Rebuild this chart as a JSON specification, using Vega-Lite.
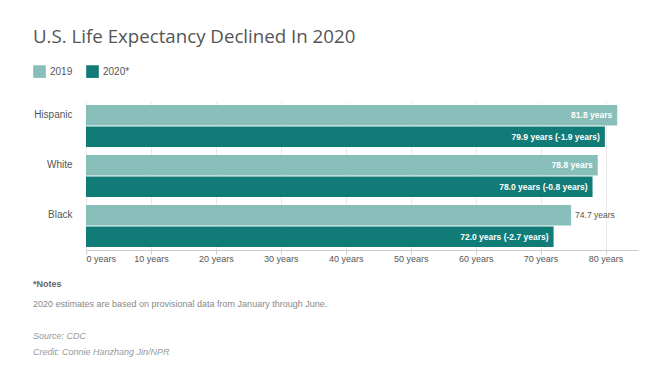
{
  "$schema": "https://vega.github.io/schema/vega-lite/v6.json",
  "background": "white",
  "padding": {"left": 33, "top": 28, "right": 5, "bottom": 5},
  "title": {
    "text": "U.S. Life Expectancy Declined In 2020",
    "anchor": "start",
    "frame": "bounds",
    "font": "Open Sans",
    "fontSize": 18.7,
    "fontWeight": "normal",
    "color": "#555555",
    "offset": 18
  },
  "config": {
    "view": {"stroke": null},
    "font": "Liberation Sans",
    "legend": {
      "orient": "none",
      "legendX": -53,
      "legendY": -37,
      "direction": "horizontal",
      "title": null,
      "symbolType": "square",
      "symbolSize": 160,
      "symbolStrokeWidth": 0,
      "symbolOpacity": 1,
      "labelFontSize": 10,
      "labelColor": "#555555",
      "labelFont": "Liberation Sans",
      "columnPadding": 13,
      "labelOffset": 4
    }
  },
  "resolve": {"legend": {"color": "independent"}},
  "spacing": 23,
  "vconcat": [
    {
      "width": 552,
      "height": 148,
      "data": {
        "values": [
          {"group": "Hispanic", "year": "2019", "value": 81.8, "label": "81.8 years"},
          {"group": "Hispanic", "year": "2020*", "value": 79.9, "label": "79.9 years (-1.9 years)"},
          {"group": "White", "year": "2019", "value": 78.8, "label": "78.8 years"},
          {"group": "White", "year": "2020*", "value": 78.0, "label": "78.0 years (-0.8 years)"},
          {"group": "Black", "year": "2019", "value": 74.7, "label": "74.7 years"},
          {"group": "Black", "year": "2020*", "value": 72.0, "label": "72.0 years (-2.7 years)"}
        ]
      },
      "title": {
        "text": "*Notes",
        "subtitle": "2020 estimates are based on provisional data from January through June.",
        "orient": "bottom",
        "anchor": "start",
        "frame": "bounds",
        "font": "Liberation Sans",
        "fontSize": 9,
        "fontWeight": "bold",
        "color": "#666666",
        "subtitleFont": "Liberation Sans",
        "subtitleFontSize": 9,
        "subtitleColor": "#888888",
        "subtitlePadding": 11,
        "offset": 17
      },
      "encoding": {
        "y": {
          "field": "group",
          "type": "nominal",
          "sort": ["Hispanic", "White", "Black"],
          "scale": {"paddingInner": 0.16, "paddingOuter": 0.06},
          "axis": {
            "title": null,
            "ticks": false,
            "domain": false,
            "labelPadding": 14,
            "labelOffset": -11,
            "labelFontSize": 10,
            "labelColor": "#555555",
            "labelFont": "Liberation Sans"
          }
        },
        "yOffset": {
          "field": "year",
          "type": "nominal",
          "sort": ["2019", "2020*"],
          "scale": {"paddingInner": 0.05, "paddingOuter": 0}
        },
        "x": {
          "field": "value",
          "type": "quantitative",
          "scale": {"domain": [0, 85], "nice": false},
          "axis": {
            "title": null,
            "values": [0, 10, 20, 30, 40, 50, 60, 70, 80],
            "labelExpr": "datum.value + ' years'",
            "labelFontSize": 9,
            "labelColor": "#555555",
            "labelFont": "Liberation Sans",
            "labelPadding": 0,
            "domainColor": "#cccccc",
            "tickColor": "#cccccc",
            "tickSize": 4,
            "gridColor": "#e8e8e8",
            "grid": true
          }
        }
      },
      "layer": [
        {
          "mark": {"type": "bar"},
          "encoding": {
            "color": {
              "field": "year",
              "type": "nominal",
              "scale": {"domain": ["2019", "2020*"], "range": ["#88bfba", "#117b77"]},
              "legend": {"title": null}
            }
          }
        },
        {
          "transform": [{"filter": "datum.group != 'Black' || datum.year != '2019'"}],
          "mark": {"type": "text", "align": "right", "dx": -5, "color": "white", "fontWeight": "bold", "fontSize": 8.5, "font": "Liberation Sans"},
          "encoding": {"text": {"field": "label"}}
        },
        {
          "transform": [{"filter": "datum.group == 'Black' && datum.year == '2019'"}],
          "mark": {"type": "text", "align": "left", "dx": 4, "color": "#555555", "fontSize": 8.5, "font": "Liberation Sans"},
          "encoding": {"text": {"field": "label"}}
        }
      ]
    },
    {
      "width": 552,
      "height": 1,
      "data": {"values": []},
      "mark": {"type": "text"},
      "encoding": {},
      "title": {
        "text": "Source: CDC",
        "subtitle": "Credit: Connie Hanzhang Jin/NPR",
        "orient": "top",
        "anchor": "start",
        "frame": "bounds",
        "dx": -53,
        "font": "Liberation Sans",
        "fontSize": 9,
        "fontWeight": "normal",
        "fontStyle": "italic",
        "color": "#999999",
        "subtitleFont": "Liberation Sans",
        "subtitleFontSize": 9,
        "subtitleFontStyle": "italic",
        "subtitleColor": "#999999",
        "subtitlePadding": 7,
        "offset": 0
      }
    }
  ]
}
